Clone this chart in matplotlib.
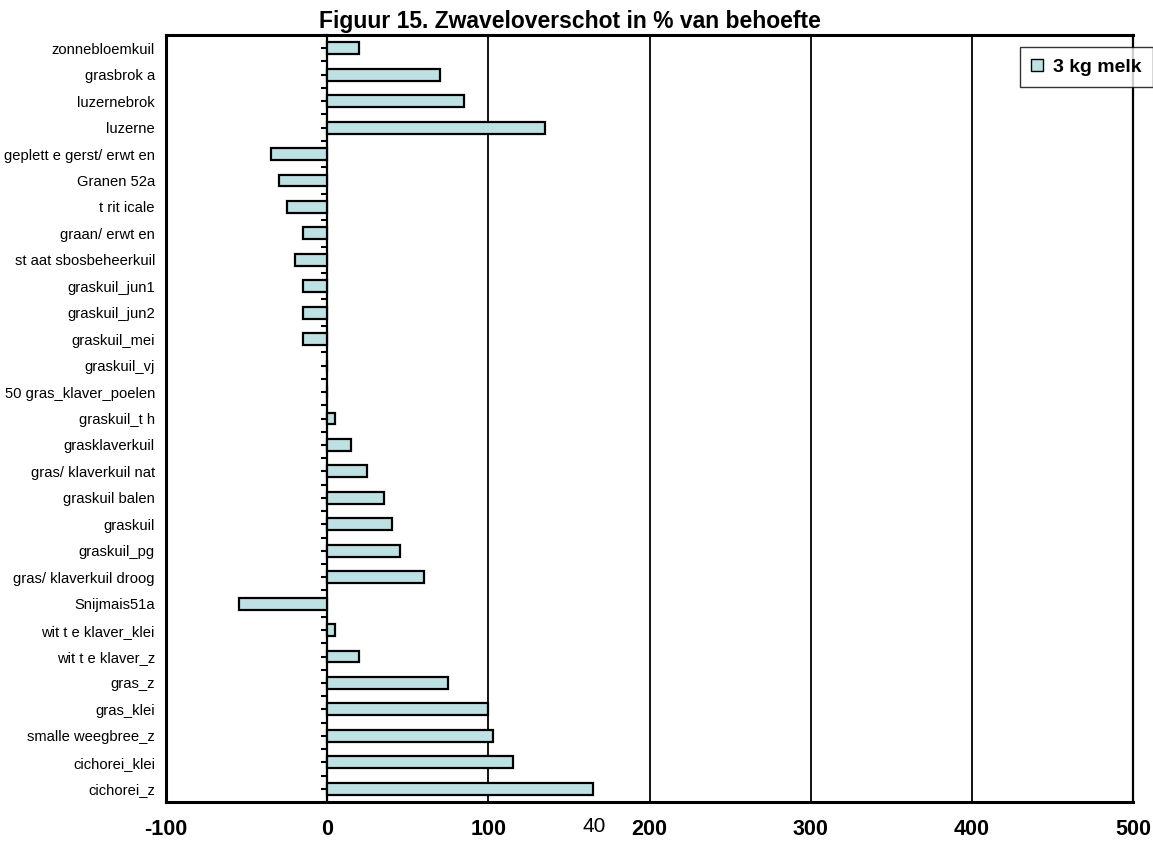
import matplotlib
matplotlib.use("Agg")
import matplotlib.pyplot as plt
from matplotlib.ticker import FixedLocator, NullFormatter

plt.rcParams['font.family'] = ['Liberation Sans', 'DejaVu Sans']

categories = [
    "zonnebloemkuil", "grasbrok a", "luzernebrok", "luzerne",
    "geplett e gerst/ erwt en", "Granen 52a", "t rit icale", "graan/ erwt en",
    "st aat sbosbeheerkuil", "graskuil_jun1", "graskuil_jun2", "graskuil_mei",
    "graskuil_vj", "50 gras_klaver_poelen", "graskuil_t h", "grasklaverkuil",
    "gras/ klaverkuil nat", "graskuil balen", "graskuil", "graskuil_pg",
    "gras/ klaverkuil droog", "Snijmais51a", "wit t e klaver_klei", "wit t e klaver_z",
    "gras_z", "gras_klei", "smalle weegbree_z", "cichorei_klei", "cichorei_z",
]
values = [
    20, 70, 85, 135,
    -35, -30, -25, -15,
    -20, -15, -15, -15,
    0, 0, 5, 15,
    25, 35, 40, 45,
    60, -55, 5, 20,
    75, 100, 103, 115, 165,
]
series_name = "3 kg melk"
x_ticks = [-100, 0, 100, 200, 300, 400, 500]
title = "Figuur 15. Zwaveloverschot in % van behoefte"
page_number = "40"

bar_color = "#BEE2E4"

fig = plt.figure(figsize=(11.53, 8.43), dpi=100)
ax = fig.add_axes([166/1153, 1-802/843, (1133-166)/1153, (802-35)/843])

n = len(categories)
pos = list(range(n))
ax.barh(pos, values, height=0.45, color=bar_color, edgecolor="black",
        linewidth=1.6, label=series_name, zorder=3)

ax.set_xlim(-100, 500)
ax.set_ylim(n - 0.5, -0.5)

# vertical grid lines
for xv in x_ticks[2:-1]:
    ax.axvline(xv, color="black", linewidth=1.3, zorder=1)

ax.set_xticks(x_ticks)
ax.set_xticklabels([str(v) for v in x_ticks], fontsize=15.5, fontweight="bold")
ax.tick_params(axis="x", length=0, pad=12)

ax.set_yticks(pos)
ax.set_yticklabels(categories, fontsize=10.6)
ax.tick_params(axis="y", length=0, pad=8)

for side in ["left", "top", "bottom"]:
    ax.spines[side].set_linewidth(2.2)
ax.spines["right"].set_linewidth(1.6)

# category axis at x = 0
sec = ax.secondary_yaxis(100/600)
sec.set_yticks(pos)
sec.yaxis.set_major_formatter(NullFormatter())
sec.yaxis.set_minor_locator(FixedLocator([p - 0.5 for p in pos] + [n - 0.5]))
sec.tick_params(axis="y", which="both", direction="out", length=4, width=1.5)
sec.spines["left"].set_linewidth(1.6)

leg = ax.legend(loc="upper right", bbox_to_anchor=(1.0, 1-47/843),
                bbox_transform=fig.transFigure, borderaxespad=0,
                prop={"size": 14, "weight": "bold"}, frameon=True, fancybox=False,
                handlelength=0.6, handleheight=0.6, handletextpad=0.5,
                borderpad=0.6)
leg.get_frame().set_edgecolor("black")
leg.get_frame().set_linewidth(1.0)
for h in leg.legend_handles:
    h.set_linewidth(1.0)

fig.text(570/1153, 1-28/843, title, ha="center", va="baseline",
         fontsize=16.5, fontweight="bold")
fig.text(594/1153, 1-826/843, page_number, ha="center", va="center",
         fontsize=15)

fig.savefig("out.png", dpi=100)
